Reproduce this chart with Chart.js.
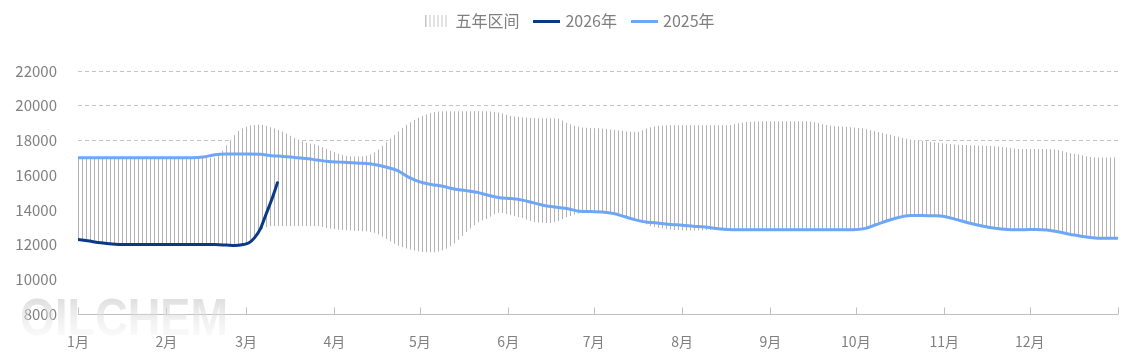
<!DOCTYPE html>
<html>
<head>
<meta charset="utf-8">
<script src="https://cdn.jsdelivr.net/npm/chart.js@4.4.0/dist/chart.umd.min.js"></script>
<style>
  html, body { margin: 0; padding: 0; background: #fff; }
  #wrap { width: 1134px; height: 363px; }
</style>
</head>
<body>
<div id="wrap"><canvas id="myChart"></canvas></div>
<script>
// day of year for every sample, shared by the range and 2025 series
const days = [0,4,8,12,16,20,24,28,32,36,40,44,48,52,56,60,64,68,72,76,
  80,84,88,92,96,100,104,108,112,116,120,124,128,132,136,140,144,148,152,156,
  160,164,168,172,176,180,184,188,192,196,200,204,208,212,216,220,224,228,232,236,
  240,244,248,252,256,260,264,268,272,276,280,284,288,292,296,300,304,308,312,316,
  320,324,328,332,336,340,344,348,352,356,360,365];

// five year range, upper edge
const rangeHigh = [17000,17000,17000,17000,17000,17000,17000,17000,17000,17000,
  17000,17000,17000,17700,18500,18840,18910,18740,18500,18140,
  17870,17740,17450,17200,17080,17080,17300,17850,18440,18970,
  19350,19580,19680,19680,19680,19680,19680,19600,19410,19330,
  19280,19280,19280,18970,18780,18720,18690,18610,18530,18480,
  18720,18840,18880,18880,18880,18880,18880,18880,18990,19070,
  19100,19100,19100,19100,19100,18990,18840,18800,18750,18670,
  18510,18360,18210,18060,17980,17890,17830,17770,17730,17710,
  17680,17640,17540,17500,17500,17500,17450,17280,17160,17030,
  17010,17010];

// five year range, lower edge
const rangeLow = [12300,12180,12060,12000,12000,12000,12000,12000,12000,12000,
  12000,12000,12000,12000,12000,12150,12800,13050,13050,13050,
  13050,13050,12930,12840,12800,12760,12680,12340,11960,11730,
  11580,11540,11660,12040,12650,13220,13520,13830,13680,13520,
  13300,13240,13300,13600,13790,13900,13880,13790,13600,13410,
  13110,12950,12850,12810,12800,12820,12850,12870,12860,12860,
  12860,12860,12860,12860,12860,12860,12860,12860,12860,12920,
  13140,13370,13560,13670,13680,13660,13620,13450,13270,13110,
  12980,12900,12860,12860,12870,12840,12740,12590,12480,12390,
  12360,12360];

const price2025 = [17000,17000,17000,17000,17000,17000,17000,17000,17000,17000,
  17000,17040,17180,17220,17220,17220,17200,17120,17080,17020,
  16960,16870,16790,16750,16710,16680,16610,16470,16270,15890,
  15610,15460,15360,15200,15110,15010,14840,14700,14650,14560,
  14400,14240,14150,14060,13920,13900,13880,13790,13600,13410,
  13290,13230,13160,13120,13060,13010,12930,12870,12860,12860,
  12860,12860,12860,12860,12860,12860,12860,12860,12860,12920,
  13140,13370,13560,13670,13680,13660,13620,13450,13270,13110,
  12980,12900,12860,12860,12870,12840,12740,12590,12480,12390,
  12360,12360];

const days2026 = [0,4,8,12,16,20,24,28,32,36,40,44,48,52,55,58,60,62,64,66,68,70];
const price2026 = [12300,12200,12100,12030,12000,12000,12000,12000,12000,12000,
  12000,12000,12000,11970,11940,12000,12100,12400,12900,13750,14600,15560];

const monthStarts = [0,31,59,90,120,151,181,212,243,273,304,334];
const monthLabels = ["1月","2月","3月","4月","5月","6月","7月","8月","9月","10月","11月","12月"];

const FONT = '"Noto Sans CJK SC", "Noto Sans", sans-serif';
const GREY_TEXT = '#7f7f7f';
const DARK = '#0a3a86';
const LIGHT = '#6ea7f7';

function pts(xs, ys) {
  return xs.map((d, i) => ({ x: d, y: ys[i] }));
}

const ctx = document.getElementById('myChart').getContext('2d');

// vertical hatch used for the range
const tile = document.createElement('canvas');
tile.width = 4; tile.height = 4;
const tg = tile.getContext('2d');
tg.fillStyle = '#fff'; tg.fillRect(0, 0, 4, 4);
tg.fillStyle = '#b3b3b3'; tg.fillRect(2, 0, 1, 4);
const stripes = ctx.createPattern(tile, 'repeat');

// legend swatches
const swatch = document.createElement('canvas');
swatch.width = 22; swatch.height = 12;
const sg = swatch.getContext('2d');
sg.fillStyle = '#c4c4c4';
for (let x = 0; x < 22; x += 4) sg.fillRect(x, 0, 1, 12);

function lineSwatch(color) {
  const c = document.createElement('canvas');
  c.width = 27; c.height = 3;
  const g = c.getContext('2d');
  g.fillStyle = color;
  g.fillRect(0, 0, 27, 3);
  return c;
}

const axisMarks = {
  id: 'axisMarks',
  afterDatasetsDraw(chart) {
    const c = chart.ctx, xs = chart.scales.x, a = chart.chartArea;
    const yb = Math.round(a.bottom) + 0.5;
    c.save();
    c.strokeStyle = '#bfbfbf';
    c.lineWidth = 1;
    c.beginPath();
    c.moveTo(a.left, yb); c.lineTo(a.right, yb);
    for (const d of monthStarts.concat([365])) {
      const px = Math.round(xs.getPixelForValue(d)) + 0.5;
      c.moveTo(px, yb); c.lineTo(px, yb - 7);
    }
    c.stroke();
    // watermark
    const grd = c.createLinearGradient(0, 296, 0, 338);
    grd.addColorStop(0, 'rgba(205,205,205,0.7)');
    grd.addColorStop(1, 'rgba(240,240,240,0.3)');
    c.fillStyle = grd;
    c.font = 'bold 52px "Liberation Sans", sans-serif';
    c.textBaseline = 'alphabetic';
    c.fillText('OILCHEM', 20, 335, 208);
    c.restore();
  }
};

const legendSpace = {
  id: 'legendSpace',
  beforeInit(chart) {
    const fit = chart.legend.fit;
    chart.legend.fit = function () {
      fit.bind(chart.legend)();
      this.height += 29;
    };
  },
  afterLayout(chart) {
    // legend sits a little right of centre and close to the top in the original
    const lg = chart.legend;
    lg.left += 11;
    lg.right += 11;
    lg.top -= 3;
    lg.bottom -= 3;
  }
};

const myChart = new Chart(ctx, {
  type: 'line',
  data: {
    datasets: [
      {
        label: '五年区间',
        data: pts(days, rangeHigh),
        fill: '+1',
        backgroundColor: stripes,
        borderColor: 'rgba(0,0,0,0)',
        borderWidth: 0,
        pointRadius: 0,
        cubicInterpolationMode: 'monotone',
        order: 4
      },
      {
        label: 'low',
        data: pts(days, rangeLow),
        fill: 'start',
        backgroundColor: '#ffffff',
        borderColor: 'rgba(0,0,0,0)',
        borderWidth: 0,
        pointRadius: 0,
        cubicInterpolationMode: 'monotone',
        order: 3
      },
      {
        label: '2026年',
        data: pts(days2026, price2026),
        borderColor: DARK,
        borderWidth: 3,
        borderCapStyle: 'round',
        pointRadius: 0,
        fill: false,
        cubicInterpolationMode: 'monotone',
        order: 1
      },
      {
        label: '2025年',
        data: pts(days, price2025),
        borderColor: LIGHT,
        borderWidth: 3,
        pointRadius: 0,
        fill: false,
        cubicInterpolationMode: 'monotone',
        order: 2
      }
    ]
  },
  options: {
    responsive: true,
    maintainAspectRatio: false,
    animation: false,
    layout: { padding: { left: 0, right: 16, top: 0, bottom: 0 } },
    plugins: {
      tooltip: { enabled: false },
      legend: {
        position: 'top',
        labels: {
          usePointStyle: true,
          pointStyleWidth: 22,
          boxHeight: 12,
          color: GREY_TEXT,
          padding: 16,
          font: { size: 16, family: FONT },
          generateLabels(chart) {
            const items = Chart.defaults.plugins.legend.labels.generateLabels(chart)
              .filter(it => it.text !== 'low')
              .sort((a, b) => a.datasetIndex - b.datasetIndex);
            for (const it of items) {
              if (it.datasetIndex === 0) it.pointStyle = swatch;
              else if (it.datasetIndex === 2) it.pointStyle = lineSwatch(DARK);
              else it.pointStyle = lineSwatch(LIGHT);
            }
            return items;
          }
        }
      }
    },
    scales: {
      x: {
        type: 'linear',
        min: 0,
        max: 365,
        afterBuildTicks(scale) {
          scale.ticks = monthStarts.map(v => ({ value: v }));
        },
        afterFit(scale) { scale.height = 49; },
        ticks: {
          autoSkip: false,
          maxRotation: 0,
          padding: 19,
          color: GREY_TEXT,
          font: { size: 14, family: FONT },
          callback: v => monthLabels[monthStarts.indexOf(v)]
        },
        grid: { display: false, drawTicks: false },
        border: { display: false }
      },
      y: {
        min: 8000,
        max: 22000,
        afterFit(scale) { scale.width = 78; },
        ticks: {
          stepSize: 2000,
          padding: 21,
          color: GREY_TEXT,
          font: { size: 15, family: FONT },
          callback: v => String(v)
        },
        grid: { color: '#c4c4c4', drawTicks: false },
        border: { display: false, dash: [4, 3] }
      }
    }
  },
  plugins: [axisMarks, legendSpace]
});
</script>
</body>
</html>
